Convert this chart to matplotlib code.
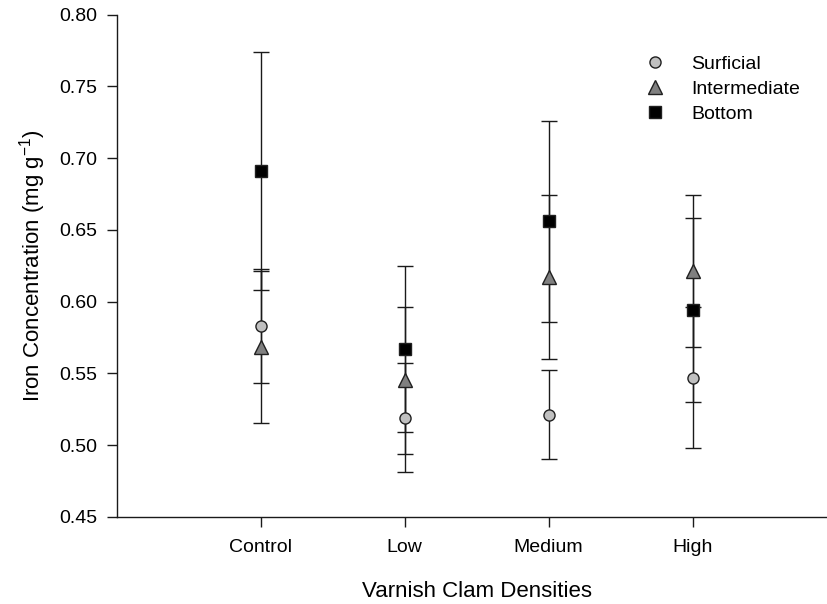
import numpy as np
import matplotlib
matplotlib.use("Agg")
import matplotlib.pyplot as plt
from matplotlib.lines import Line2D

plt.rcParams['font.family'] = ['Liberation Sans', 'DejaVu Sans']
plt.rcParams['mathtext.fontset'] = 'custom'
plt.rcParams['mathtext.rm'] = 'Liberation Sans'
plt.rcParams['mathtext.it'] = 'Liberation Sans'

densities = ["Control", "Low", "Medium", "High"]

# mean iron concentration and standard error by sediment layer
surficial = [0.583, 0.519, 0.521, 0.547]
surficial_se = [0.040, 0.038, 0.031, 0.049]
intermediate = [0.568, 0.545, 0.617, 0.621]
intermediate_se = [0.053, 0.051, 0.057, 0.053]
bottom = [0.691, 0.567, 0.656, 0.594]
bottom_se = [0.083, 0.058, 0.070, 0.064]

fig = plt.figure(figsize=(8.27, 6.04), dpi=100)
ax = fig.add_axes([0.1411, 0.1445, 0.8706, 0.8312])

x = np.arange(1, len(densities) + 1)

series = [
    ("Surficial", surficial, surficial_se, "o", "#c0c0c0", 8),
    ("Intermediate", intermediate, intermediate_se, "^", "#808080", 9.5),
    ("Bottom", bottom, bottom_se, "s", "black", 8),
]

handles = []
for name, vals, se, mk, fc, ms in series:
    ax.errorbar(x, vals, yerr=se, fmt="none", ecolor="#1a1a1a",
                elinewidth=1.0, capsize=5.8, capthick=1.0, zorder=2)
    ax.plot(x, vals, linestyle="none", marker=mk, markersize=ms,
            markerfacecolor=fc, markeredgecolor="#202020",
            markeredgewidth=1.0, zorder=3)
    handles.append(Line2D([], [], linestyle="none", marker=mk, markersize=ms,
                          markerfacecolor=fc, markeredgecolor="#202020",
                          markeredgewidth=1.0, label=name))

ax.set_xlim(0, 5)
ax.set_ylim(0.45, 0.80)
ax.set_xticks(x)
ax.set_xticklabels(densities)
ax.set_yticks(np.arange(0.45, 0.801, 0.05))
ax.yaxis.set_major_formatter(matplotlib.ticker.FormatStrFormatter("%.2f"))

for side in ["top", "right"]:
    ax.spines[side].set_visible(False)
for side in ["left", "bottom"]:
    ax.spines[side].set_linewidth(1.0)
    ax.spines[side].set_color("#1a1a1a")

ax.tick_params(axis="both", direction="out", length=7, width=1.0,
               labelsize=14, color="#1a1a1a")
ax.tick_params(axis="y", pad=7)
ax.tick_params(axis="x", pad=9)

ax.set_xlabel("Varnish Clam Densities", fontsize=16, labelpad=18)
ax.set_ylabel(r"Iron Concentration (mg g$^{\mathregular{-1}}$)", fontsize=16,
              labelpad=8)

ax.legend(handles=handles, loc="upper left",
          bbox_to_anchor=(628 / 827, 1 - 47.5 / 604),
          bbox_transform=fig.transFigure, frameon=False, fontsize=14,
          handletextpad=0.85, labelspacing=0.38, borderaxespad=0)

fig.savefig("out.png", dpi=100)
